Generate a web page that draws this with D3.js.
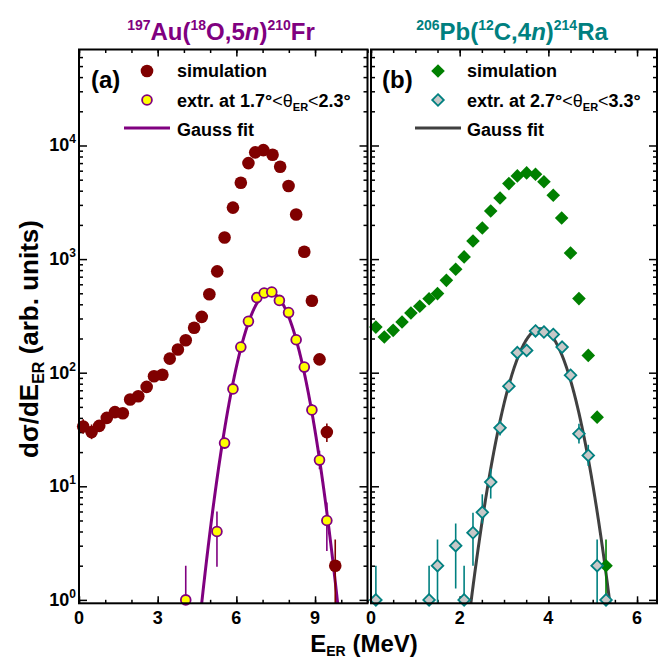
<!DOCTYPE html>
<html>
<head>
<meta charset="utf-8">
<script src="https://cdn.jsdelivr.net/npm/d3@7"></script>
<style>
  body { margin: 0; background: #fff; }
  text { font-family: "Liberation Sans", Arial, sans-serif; font-weight: bold; }
</style>
</head>
<body>
<div id="chart"></div>
<script>

// ---- panel (a): 197Au(18O,5n)210Fr ----
var simA_E   = [0.16, 0.48, 0.77, 1.06, 1.37, 1.67, 1.95, 2.26, 2.58, 2.86, 3.18, 3.46, 3.77, 4.07, 4.39, 4.68, 4.97,
                5.27, 5.55, 5.87, 6.17, 6.46, 6.72, 7.03, 7.38, 7.67, 7.99, 8.28, 8.59, 8.88, 9.17, 9.45, 9.77]
var simA_val = [33.6, 30, 34, 40, 45, 44, 58, 62, 75, 93, 96, 133, 160, 193, 249, 310, 490,
                780, 1550, 2840, 4700, 7000, 8700, 9100, 8300, 6500, 4400, 2470, 1160, 430, 131, 30, 2.0]
var simA_err = [[29, 39], [26, 35], [30, 38], [36, 44], [41, 49], [40, 48], [54, 62], null, null, null, null, null, null, null, null, null, null,
                null, null, null, null, null, null, null, null, null, null, null, null, null, [122, 140], [24.5, 35.7], [0.5, 3.4]]

var extA_E   = [4.07, 5.26, 5.55, 5.87, 6.17, 6.46, 6.78, 7.06, 7.35, 7.64, 7.99, 8.28, 8.59, 8.88, 9.17, 9.45]
var extA_val = [1.0, 4.0, 24, 72, 168, 283, 458, 503, 513, 433, 338, 195, 112, 47, 17, 5.0]
var extA_err = [[0.5, 2.0], [1.96, 6.0], [21.5, 27], [66, 78], null, null, null, null, null, null, null, null, [104, 120], [42, 53], [14.1, 20.6], [2.7, 7.2]]

// Gauss fit (amplitude, centre, sigma)
var fitA = [510, 7.27, 0.73]

// ---- panel (b): 206Pb(12C,4n)214Ra ----
var simB_E   = [0.11, 0.30, 0.50, 0.70, 0.90, 1.10, 1.31, 1.50, 1.70, 1.91, 2.10, 2.30, 2.51, 2.70,
                2.91, 3.11, 3.30, 3.51, 3.71, 3.90, 4.11, 4.30, 4.50, 4.69, 4.90, 5.10, 5.30]
var simB_val = [252, 206, 236, 279, 335, 384, 448, 497, 650, 813, 1045, 1445, 1880, 2650,
                3450, 4620, 5400, 5740, 5590, 4790, 3650, 2300, 1130, 449, 142, 40.6, 2.0]
var simB_err = [null, null, null, null, null, null, null, null, null, null, null, null, null, null,
                null, null, null, null, null, null, null, null, null, null, null, [36, 45], [0.5, 3.4]]

var extB_E   = [0.11, 1.31, 1.50, 1.91, 2.10, 2.30, 2.51, 2.70, 2.91, 3.11, 3.30, 3.51, 3.71, 3.90, 4.11, 4.31, 4.50, 4.69, 4.90, 5.10, 5.30]
var extB_val = [1.0, 1.0, 2.0, 3.0, 1.0, 3.9, 5.9, 10.9, 32.7, 76, 150, 157, 233, 228, 217, 168, 95, 29, 18.7, 2.0, 1.0]
var extB_err = [[0.5, 2.0], [0.5, 2.0], [0.5, 3.4], [1.26, 4.7], [0.5, 2.0], [2.0, 5.85], [4.7, 8.5], [7.8, 14.3], [28, 38], [70, 83],
                null, null, null, null, null, null, [88, 103], [23.8, 35.6], [15.1, 23.2], [0.5, 3.4], null]

var fitB = [244, 3.82, 0.47]

var xTicksA = [0, 3, 6, 9]
var xTicksB = [0, 2, 4, 6]
var yDecades = [0, 1, 2, 3, 4]


var width = 659,
    height = 662,
    plotTop = 49.5,
    plotBottom = 603.3

var svg = d3.select("#chart")
  .append("svg")
    .attr("width", width)
    .attr("height", height)

var y = d3.scaleLog()
  .domain([Math.pow(10, -0.03), Math.pow(10, 4.845)])
  .range([plotBottom, plotTop])

var yMajor = yDecades.map(function(d) { return Math.pow(10, d) })
var yMinor = []
yDecades.forEach(function(d) {
  for (var m = 2; m <= 9; m++) {
    var v = m * Math.pow(10, d)
    if (v < y.domain()[1]) yMinor.push(v)
  }
})

function range(a, b, step) {
  var out = []
  for (var v = a; v <= b + 1e-9; v += step) out.push(+v.toFixed(3))
  return out
}

var panels = [
  {
    id: "a", x0: 79, x1: 367.5, domain: [0, 11], major: xTicksA, minor: range(0, 11, 1),
    sim: { E: simA_E, v: simA_val, err: simA_err }, ext: { E: extA_E, v: extA_val, err: extA_err },
    fit: fitA, simColor: "#800000", extFill: "#ffff00", extStroke: "#800080", fitColor: "#800080",
    shape: "circle"
  },
  {
    id: "b", x0: 371, x1: 657, domain: [0, 6.45], major: xTicksB, minor: range(0, 6.45, 0.5),
    sim: { E: simB_E, v: simB_val, err: simB_err }, ext: { E: extB_E, v: extB_val, err: extB_err },
    fit: fitB, simColor: "#008000", extFill: "#c8c8c8", extStroke: "#008080", fitColor: "#404040",
    shape: "diamond"
  }
]

function diamond(h) {
  return "M0," + (-h) + "L" + h + ",0L0," + h + "L" + (-h) + ",0Z"
}

panels.forEach(function(p) {
  var x = d3.scaleLinear().domain(p.domain).range([p.x0, p.x1])
  var g = svg.append("g")

  svg.append("clipPath").attr("id", "clip-" + p.id)
    .append("rect")
      .attr("x", p.x0).attr("y", plotTop)
      .attr("width", p.x1 - p.x0).attr("height", plotBottom - plotTop)

  // ticks, all inward
  function axis(gen, vals, size, tx, ty) {
    var a = g.append("g")
      .attr("transform", "translate(" + tx + "," + ty + ")")
      .call(gen.tickValues(vals).tickSize(-size).tickSizeOuter(0).tickFormat(""))
    a.select(".domain").remove()
    a.selectAll("line").attr("stroke", "#000").attr("stroke-width", 1.5)
  }
  axis(d3.axisBottom(x), p.minor, 3.5, 0, plotBottom)
  axis(d3.axisBottom(x), p.major, 7, 0, plotBottom)
  axis(d3.axisTop(x), p.minor, 3.5, 0, plotTop)
  axis(d3.axisTop(x), p.major, 7, 0, plotTop)
  axis(d3.axisLeft(y), yMinor, 4, p.x0, 0)
  axis(d3.axisLeft(y), yMajor, 8, p.x0, 0)
  axis(d3.axisRight(y), yMinor, 4, p.x1, 0)
  axis(d3.axisRight(y), yMajor, 8, p.x1, 0)

  // x tick labels
  g.selectAll(".xl")
    .data(p.major)
    .enter()
    .append("text")
      .attr("x", function(d) { return x(d) })
      .attr("y", 624)
      .attr("text-anchor", "middle")
      .style("font-size", "18px")
      .text(function(d) { return d })

  var plot = svg.append("g").attr("clip-path", "url(#clip-" + p.id + ")")

  // gauss fit
  var fitPts = range(p.domain[0], p.domain[1], 0.01).map(function(e) {
    return [e, p.fit[0] * Math.exp(-Math.pow(e - p.fit[1], 2) / (2 * p.fit[2] * p.fit[2]))]
  }).filter(function(d) { return d[1] > 0.05 })

  plot.append("path")
    .datum(fitPts)
    .attr("fill", "none")
    .attr("stroke", p.fitColor)
    .attr("stroke-width", 3)
    .attr("d", d3.line()
      .x(function(d) { return x(d[0]) })
      .y(function(d) { return y(d[1]) }))

  // error bars
  function errBars(set, color) {
    var rows = set.E.map(function(e, i) { return { e: e, r: set.err[i] } })
      .filter(function(d) { return d.r })
    plot.selectAll(null)
      .data(rows)
      .enter()
      .append("line")
        .attr("x1", function(d) { return x(d.e) })
        .attr("x2", function(d) { return x(d.e) })
        .attr("y1", function(d) { return y(d.r[0]) })
        .attr("y2", function(d) { return y(d.r[1]) })
        .attr("stroke", color)
        .attr("stroke-width", 1.6)
  }
  errBars(p.sim, p.simColor)
  errBars(p.ext, p.extStroke)

  var marks = svg.append("g")

  function points(set, fill, stroke, sw, size) {
    var rows = set.E.map(function(e, i) { return { e: e, v: set.v[i] } })
    var sel = marks.selectAll(null).data(rows).enter()
    if (p.shape == "circle") {
      sel.append("circle")
        .attr("cx", function(d) { return x(d.e) })
        .attr("cy", function(d) { return y(d.v) })
        .attr("r", size)
        .attr("fill", fill)
        .attr("stroke", stroke)
        .attr("stroke-width", sw)
    } else {
      sel.append("path")
        .attr("transform", function(d) { return "translate(" + x(d.e) + "," + y(d.v) + ")" })
        .attr("d", diamond(size))
        .attr("fill", fill)
        .attr("stroke", stroke)
        .attr("stroke-width", sw)
    }
  }
  if (p.shape == "circle") {
    points(p.sim, p.simColor, "none", 0, 6.3)
    points(p.ext, p.extFill, p.extStroke, 1.8, 4.9)
  } else {
    points(p.sim, p.simColor, "none", 0, 6.8)
    points(p.ext, p.extFill, p.extStroke, 1.8, 5.8)
  }

  // frame
  svg.append("rect")
    .attr("x", p.x0).attr("y", plotTop)
    .attr("width", p.x1 - p.x0).attr("height", plotBottom - plotTop)
    .attr("fill", "none")
    .attr("stroke", "#000")
    .attr("stroke-width", 2)

  // legend
  var lx = p.id == "a" ? 147 : 438
  var tx = p.id == "a" ? 177 : 467
  var leg = svg.append("g")
  leg.append("text").attr("x", lx - 56).attr("y", 88).style("font-size", "24px")
    .text("(" + p.id + ")")
  if (p.shape == "circle") {
    leg.append("circle").attr("cx", lx).attr("cy", 71).attr("r", 6.3).attr("fill", p.simColor)
    leg.append("circle").attr("cx", lx).attr("cy", 100).attr("r", 4.9)
      .attr("fill", p.extFill).attr("stroke", p.extStroke).attr("stroke-width", 1.8)
  } else {
    leg.append("path").attr("transform", "translate(" + lx + ",71)").attr("d", diamond(6.8)).attr("fill", p.simColor)
    leg.append("path").attr("transform", "translate(" + lx + ",100)").attr("d", diamond(5.8))
      .attr("fill", p.extFill).attr("stroke", p.extStroke).attr("stroke-width", 1.8)
  }
  leg.append("line")
    .attr("x1", lx - 23).attr("x2", lx + 23).attr("y1", 128).attr("y2", 128)
    .attr("stroke", p.fitColor).attr("stroke-width", 3)

  leg.append("text").attr("x", tx).attr("y", 77).style("font-size", "18px").text("simulation")
  var lo = p.id == "a" ? "1.7" : "2.7", hi = p.id == "a" ? "2.3" : "3.3"
  var t = leg.append("text").attr("x", tx).attr("y", 107).style("font-size", "18px")
  t.append("tspan").text("extr. at " + lo + "°")
  t.append("tspan").style("font-weight", "normal").text("<θ")
  t.append("tspan").attr("dy", 4).style("font-size", "11px").text("ER")
  t.append("tspan").attr("dy", -4).style("font-weight", "normal").text("<")
  t.append("tspan").text(hi + "°")
  leg.append("text").attr("x", tx).attr("y", 136).style("font-size", "18px").text("Gauss fit")
})

// y tick labels
yDecades.forEach(function(d) {
  var t = svg.append("text")
    .attr("x", 76)
    .attr("y", y(Math.pow(10, d)) + 6)
    .attr("text-anchor", "end")
    .style("font-size", "18px")
  t.append("tspan").text("10")
  t.append("tspan").attr("dy", -8).style("font-size", "12px").text(d)
})

// titles
function title(cx, color, parts) {
  var t = svg.append("text")
    .attr("x", cx).attr("y", 40)
    .attr("text-anchor", "middle")
    .attr("fill", color)
    .style("font-size", "24px")
  var raised = false
  parts.forEach(function(p) {
    var s = t.append("tspan").text(p[0])
    if (p[1] == "sup") {
      s.style("font-size", "14px").attr("dy", raised ? 0 : -10)
      raised = true
    } else {
      if (raised) s.attr("dy", 10)
      raised = false
      if (p[1] == "it") s.style("font-style", "italic")
    }
  })
}
title(221, "#800080", [["197", "sup"], ["Au("], ["18", "sup"], ["O,5"], ["n", "it"], [")"], ["210", "sup"], ["Fr"]])
title(512, "#008080", [["206", "sup"], ["Pb("], ["12", "sup"], ["C,4"], ["n", "it"], [")"], ["214", "sup"], ["Ra"]])

// axis titles
var xl = svg.append("text")
  .attr("x", 364).attr("y", 652)
  .attr("text-anchor", "middle")
  .style("font-size", "24px")
xl.append("tspan").text("E")
xl.append("tspan").attr("dy", 4).style("font-size", "14px").text("ER")
xl.append("tspan").attr("dy", -4).text(" (MeV)")

var yl = svg.append("text")
  .attr("transform", "translate(38,339) rotate(-90)")
  .attr("text-anchor", "middle")
  .style("font-size", "26px")
yl.append("tspan").text("dσ/dE")
yl.append("tspan").attr("dy", 6).style("font-size", "16px").text("ER")
yl.append("tspan").attr("dy", -6).text(" (arb. units)")

</script>
</body>
</html>
